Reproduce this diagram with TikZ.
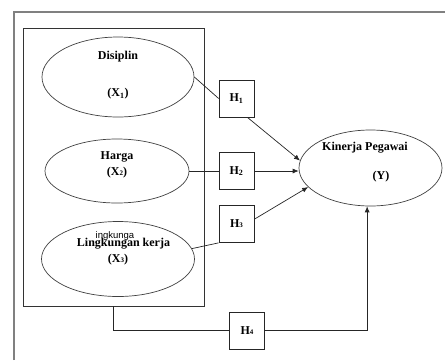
\documentclass[tikz,border=0pt]{standalone}
\usepackage{fontspec}
\setmainfont{Liberation Serif}
\newfontfamily\glitchfont{Liberation Sans}
\usetikzlibrary{shapes.geometric,arrows.meta}

\newcommand{\lowdig}[1]{{\fontsize{7}{7}\selectfont #1}}

\tikzset{
  varell/.style={ellipse,draw=black!75,line width=0.7pt,inner sep=0pt},
  hypbox/.style={rectangle,draw=black!85,line width=0.7pt,minimum width=35pt,minimum height=37pt,inner sep=0pt,font=\fontsize{12}{12}\selectfont\bfseries},
  lbl/.style={inner sep=0pt,font=\fontsize{12}{12}\selectfont\bfseries},
  link/.style={black!85,line width=0.7pt},
  tip/.style={link,-{Latex[length=6pt,width=5pt]}},
}

\begin{document}
\begin{tikzpicture}[x=1pt,y=-1pt]
\useasboundingbox (0,0) rectangle (445,360);

% outer frame
\draw[black!50,line width=1.4pt] (14,360) -- (14,12) -- (445,12);

% independent variables
\node[rectangle,draw=black!80,line width=0.7pt,minimum width=181pt,minimum height=278pt,inner sep=0pt] (grp) at (113.5,167) {};
\node[varell,minimum width=152pt,minimum height=80pt] (e1) at (118,77) {};
\node[varell,minimum width=144pt,minimum height=64pt] (e2) at (117,171) {};
\node[varell,minimum width=153pt,minimum height=75pt] (e3) at (118,259) {};

\node[lbl] (t1) at (118,57) {Disiplin};
\node[lbl] (x1) at (118,94) {(X\textsubscript{1})};
\node[lbl] (t2) at (117,157) {Harga};
\node[lbl] (x2) at (117,173) {(X\lowdig{2})};
\node[inner sep=0pt,font=\glitchfont\fontsize{9.5}{9.5}\selectfont] (gl) at (115,236) {ingkunga};
\node[lbl] (t3) at (123.5,244) {Lingkungan kerja};
\node[lbl] (x3) at (118,260) {(X\lowdig{3})};

% dependent variable
\node[varell,minimum width=143pt,minimum height=76pt] (y) at (370.5,168) {};
\node[lbl] (ty) at (365,148) {Kinerja Pegawai};
\node[lbl] (yy) at (381,177) {(Y)};

% hypotheses
\node[hypbox] (h1) at (236.5,98.5) {H\textsubscript{1}};
\node[hypbox] (h2) at (236.5,171) {H\textsubscript{2}};
\node[hypbox] (h3) at (236.5,224) {H\lowdig{3}};
\node[hypbox] (h4) at (247,330.5) {H\lowdig{4}};

\draw[link] (e1.east) -- (h1.west);
\draw[tip] (h1.-60) -- (y.174);
\draw[link] (e2.east) -- (h2.west);
\draw[tip] (h2.east) -- (h2.east -| y.west);
\draw[link] (e3.8) -- (h3.south west);
\draw[tip] (h3.15) -- (y.197);

\draw[link] (grp.south) |- (h4.west);
\draw[tip] (h4.east) -| (y.265);

\end{tikzpicture}
\end{document}
